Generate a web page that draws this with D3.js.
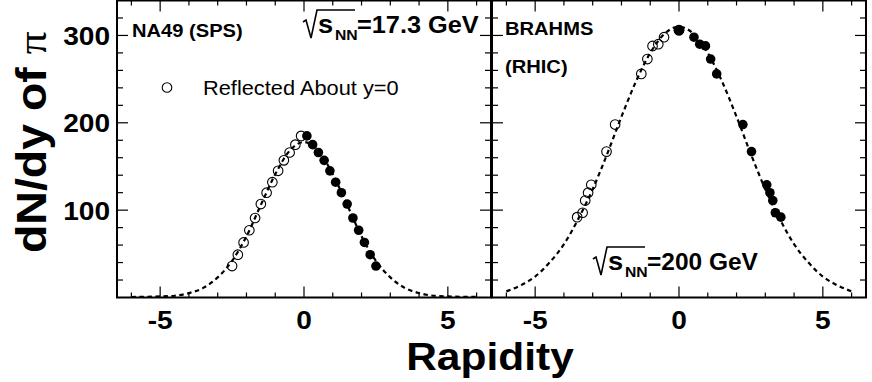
<!DOCTYPE html>
<html>
<head>
<meta charset="utf-8">
<script src="https://cdn.jsdelivr.net/npm/d3@7/dist/d3.min.js"></script>
<style>
  body { margin: 0; background: #fff; }
  svg { display: block; font-family: "Liberation Sans", Arial, sans-serif; }
</style>
</head>
<body>
<script>
// NA49 (SPS) pion dN/dy, measured side (y > 0)
const na49Rap = [0.1, 0.3, 0.5, 0.7, 0.9, 1.1, 1.3, 1.5, 1.7, 1.9, 2.1, 2.3, 2.5];
const na49Val = [185, 175, 166, 157, 145, 132, 120, 107, 91, 77, 63, 49, 36];
// dashed fit curve
const na49FitRap = [-6, -5.5, -5, -4.5, -4, -3.5, -3, -2.5, -2, -1.5, -1, -0.5, 0,
  0.5, 1, 1.5, 2, 2.5, 3, 3.5, 4, 4.5, 5, 5.5, 6];
const na49FitVal = [0.6, 0.8, 1.2, 2, 5, 11, 23, 42, 70, 106, 141, 168, 178,
  168, 141, 106, 70, 42, 23, 11, 5, 2, 1.2, 0.8, 0.6];

// BRAHMS (RHIC) pion dN/dy, measured side
const brahmsRap = [0, 0.52, 0.72, 0.92, 1.1, 1.31, 2.22, 2.52, 3.05, 3.16, 3.26, 3.35, 3.54];
const brahmsVal = [306, 298, 290, 288, 273, 256, 198, 167, 129, 120, 111, 97, 92];
const brahmsFitRap = na49FitRap;
const brahmsFitVal = [7, 14, 24, 40, 61, 90, 124, 164, 207, 247, 280, 302, 310,
  302, 280, 247, 207, 164, 124, 90, 61, 40, 24, 14, 7];

const xMajor = [-5, 0, 5];
const xMinor = d3.range(-6, 7, 1);
const yMajor = [100, 200, 300];
const yMinor = d3.range(20, 340, 20);

const width = 872;
const height = 382;

const svg = d3.select("body").append("svg")
  .attr("width", width)
  .attr("height", height);

const y = d3.scaleLinear().domain([0, 340]).range([297.5, 0.5]);

const panels = [
  { x0: 117, x1: 491, rap: na49Rap, val: na49Val, fitRap: na49FitRap, fitVal: na49FitVal, yLabels: true },
  { x0: 492, x1: 866, rap: brahmsRap, val: brahmsVal, fitRap: brahmsFitRap, fitVal: brahmsFitVal, yLabels: false }
];

// text with a slight horizontal stretch, like the original figure
function label(g, x, yy, str, size, weight, sx, anchor) {
  return g.append("text")
    .attr("transform", `translate(${x},${yy}) scale(${sx},1)`)
    .attr("text-anchor", anchor || "start")
    .style("font-size", size + "px")
    .style("font-weight", weight)
    .text(str);
}

function sqrtLabel(g, x, yy, value, size, sx) {
  g.append("path")
    .attr("d", `M${x},${yy - 11} l3,-2 l5,18 l6,-28 h38`)
    .attr("fill", "none")
    .attr("stroke", "#000")
    .attr("stroke-width", 1.6);
  label(g, x + 15, yy, "s", 26, "bold", 1.05);
  label(g, x + 32, yy + 7, "NN", 15, "bold", 1.05);
  label(g, x + 54, yy, "=" + value, size, "bold", sx);
}

panels.forEach((p, i) => {
  const g = svg.append("g");
  const x = d3.scaleLinear().domain([-6.5, 6.5]).range([p.x0, p.x1]);

  // ticks on all four sides, pointing inward
  const tk = g.append("g").attr("stroke", "#000").attr("stroke-width", 1.2);
  xMinor.forEach(v => {
    const len = xMajor.includes(v) ? 11 : 5;
    tk.append("line").attr("x1", x(v)).attr("x2", x(v)).attr("y1", y(0)).attr("y2", y(0) - len);
    tk.append("line").attr("x1", x(v)).attr("x2", x(v)).attr("y1", y(340)).attr("y2", y(340) + len);
  });
  yMinor.forEach(v => {
    const len = yMajor.includes(v) ? 11 : 6;
    tk.append("line").attr("x1", p.x0).attr("x2", p.x0 + len).attr("y1", y(v)).attr("y2", y(v));
    tk.append("line").attr("x1", p.x1).attr("x2", p.x1 - len).attr("y1", y(v)).attr("y2", y(v));
  });

  g.append("rect")
    .attr("x", p.x0)
    .attr("y", y(340))
    .attr("width", p.x1 - p.x0)
    .attr("height", y(0) - y(340))
    .attr("fill", "none")
    .attr("stroke", "#000")
    .attr("stroke-width", 2);

  xMajor.forEach(v => label(g, x(v), 329, String(v), 26, "bold", 1.08, "middle"));
  if (p.yLabels) {
    yMajor.forEach(v => label(g, 110, y(v) + 9.5, String(v), 26.5, "bold", 1.06, "end"));
  }

  const line = d3.line()
    .x((d, k) => x(p.fitRap[k]))
    .y(d => y(d))
    .curve(d3.curveMonotoneX);

  g.append("path")
    .datum(p.fitVal)
    .attr("d", line)
    .attr("fill", "none")
    .attr("stroke", "#000")
    .attr("stroke-width", 2.2)
    .attr("stroke-dasharray", "4.5,3.5");

  // reflected points (open)
  g.selectAll(".open")
    .data(p.val)
    .enter()
    .append("circle")
    .attr("class", "open")
    .attr("cx", (d, k) => x(-p.rap[k]))
    .attr("cy", d => y(d))
    .attr("r", 4.8)
    .attr("fill", "none")
    .attr("stroke", "#000")
    .attr("stroke-width", 1.1);

  g.selectAll(".filled")
    .data(p.val)
    .enter()
    .append("circle")
    .attr("class", "filled")
    .attr("cx", (d, k) => x(p.rap[k]))
    .attr("cy", d => y(d))
    .attr("r", (d, k) => (i === 1 && k === 0 ? 5.3 : 4.8))
    .attr("fill", "#000");

  if (i === 0) {
    label(g, 132, 37, "NA49 (SPS)", 19, "bold", 1.06);
    sqrtLabel(g, 303, 33, "17.3 GeV", 23, 1.1);
    g.append("circle")
      .attr("cx", 167)
      .attr("cy", 87.5)
      .attr("r", 4.8)
      .attr("fill", "none")
      .attr("stroke", "#000")
      .attr("stroke-width", 1.1);
    label(g, 203, 94.5, "Reflected About y=0", 20, "normal", 1.09);
  } else {
    label(g, 505, 35, "BRAHMS", 19, "bold", 1.06);
    label(g, 505, 73, "(RHIC)", 19, "bold", 1.06);
    sqrtLabel(g, 593, 270, "200 GeV", 24, 1.02);
  }
});

label(svg, 490, 370, "Rapidity", 39, "bold", 1.09, "middle");

const yl = svg.append("text")
  .attr("transform", "translate(46,253) rotate(-90) scale(1.08,1)")
  .style("font-size", "43px")
  .style("font-weight", "bold")
  .text("dN/dy of ");
yl.append("tspan")
  .style("font-family", "'Liberation Serif', serif")
  .style("font-weight", "normal")
  .style("font-size", "42px")
  .text("π");
</script>
</body>
</html>
